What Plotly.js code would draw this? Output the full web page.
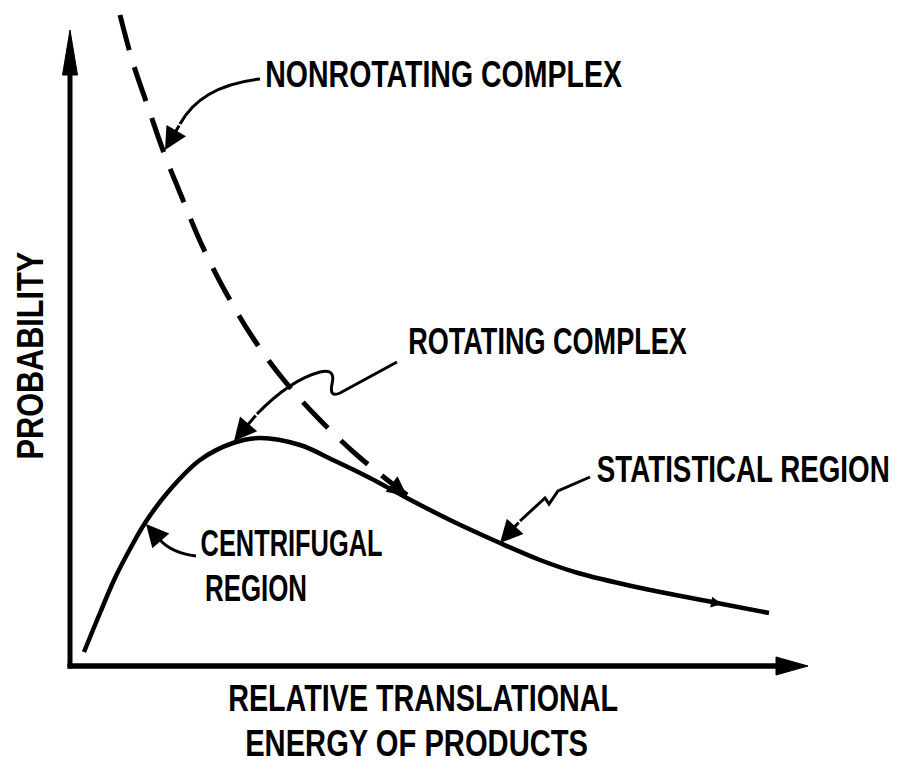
<!DOCTYPE html>
<html>
<head>
<meta charset="utf-8">
<script src="https://cdn.plot.ly/plotly-3.0.1.min.js"></script>
<style>
html,body{margin:0;padding:0;background:#ffffff;}
#chart{width:904px;height:766px;}
</style>
</head>
<body>
<div id="chart"></div>
<script>
// Rotating complex: probability vs relative translational energy (arbitrary units)
const rotEnergy = [0.14,0.30,0.45,0.60,0.75,0.98,1.30,1.63,1.90,2.30,2.63,3.00,3.35,3.80,4.30,4.70,5.08,5.66,6.47,6.99];
const rotProb   = [0.14,0.53,0.88,1.17,1.43,1.74,2.06,2.23,2.28,2.21,2.06,1.88,1.69,1.46,1.23,1.06,0.93,0.79,0.63,0.53];
// Nonrotating complex (dashed)
const nonrotEnergy = [0.50,0.63,0.78,0.94,1.13,1.30,1.55,1.83,2.13,2.48,2.88,3.37];
const nonrotProb   = [6.51,6.03,5.59,5.13,4.66,4.25,3.75,3.28,2.87,2.48,2.10,1.71];
// Axis extents (arbitrary units)
const xAxisEnd = 7.38;
const yAxisEnd = 6.36;

// pixel helpers for layout decorations (plot origin at px 70, py 666, 100 px per unit)
const X = px => (px - 70) / 100;
const Y = py => (666 - py) / 100;
const P = (px, py) => X(px).toFixed(3) + ',' + Y(py).toFixed(3);
const PX = px => (px - 60) / 748;
const PY = py => (676 - py) / 666;

const FONT = {family: '"Liberation Sans", Arial, sans-serif', size: 37, color: '#000', weight: 'bold'};

const traces = [
  {x: rotEnergy, y: rotProb, mode: 'lines', line: {color: '#000', width: 4.5, shape: 'spline', smoothing: 1}, hoverinfo: 'skip'},
  {x: nonrotEnergy, y: nonrotProb, mode: 'lines', line: {color: '#000', width: 5, shape: 'spline', smoothing: 1, dash: '36px,18px'}, hoverinfo: 'skip'}
];

const headLen = 0.45, headHalf = 0.075;
const shapes = [
  {type: 'line', xref: 'x', yref: 'y', x0: 0, y0: -0.025, x1: 0, y1: yAxisEnd - headLen + 0.05, line: {color: '#000', width: 5}},
  {type: 'line', xref: 'x', yref: 'y', x0: -0.025, y0: 0, x1: xAxisEnd - 0.3, y1: 0, line: {color: '#000', width: 5.5}},
  {type: 'path', xref: 'x', yref: 'y', path: 'M0,' + yAxisEnd + ' L' + (-headHalf) + ',' + (yAxisEnd - headLen) + ' L' + headHalf + ',' + (yAxisEnd - headLen) + ' Z', fillcolor: '#000', line: {color: '#000', width: 1}},
  {type: 'path', xref: 'x', yref: 'y', path: 'M' + xAxisEnd + ',0 L' + (xAxisEnd - 0.32) + ',' + (-0.09) + ' L' + (xAxisEnd - 0.32) + ',0.09 Z', fillcolor: '#000', line: {color: '#000', width: 1}},
  // arrow shafts
  {type: 'path', xref: 'x', yref: 'y', path: 'M' + P(260,79) + ' C' + P(215,84) + ' ' + P(192,102) + ' ' + P(180,124), line: {color: '#000', width: 3}},
  {type: 'path', xref: 'x', yref: 'y', path: 'M' + P(397,362) + ' L' + P(340,393) + ' Q' + P(329,398) + ' ' + P(332,384) + ' Q' + P(336,368) + ' ' + P(320,372) + ' Q' + P(290,380) + ' ' + P(257,414), line: {color: '#000', width: 3}},
  {type: 'path', xref: 'x', yref: 'y', path: 'M' + P(590,477) + ' L' + P(558,491) + ' L' + P(549,504) + ' L' + P(545,498) + ' L' + P(520,521), line: {color: '#000', width: 3}},
  {type: 'path', xref: 'x', yref: 'y', path: 'M' + P(196,556) + ' Q' + P(172,553) + ' ' + P(160,540), line: {color: '#000', width: 3}}
];

function head(px, py, ax, ay, w, s) {
  return {x: X(px), y: Y(py), xref: 'x', yref: 'y', text: '', showarrow: true, arrowhead: 2, arrowwidth: w || 3, arrowsize: s || 1.5, arrowcolor: '#000', ax: ax, ay: ay};
}
function label(text, px, py) {
  return {x: X(px), y: Y(py), xref: 'x', yref: 'y', text: text, showarrow: false, xanchor: 'center', yanchor: 'middle', font: FONT};
}

// target text widths (px), used to condense the lettering
const targetWidth = {};
const annotations = [
  head(165,150, 15,-26),
  head(234,441, 23,-27),
  head(500,543, 20,-22),
  head(146,524, 14,16),
  head(407,496, -18,-14, 3, 1.3),
  head(722,604, -17,-3, 2, 1.1)
];
function addLabel(ann, w) { targetWidth[annotations.length] = w; annotations.push(ann); }
addLabel(label('NONROTATING COMPLEX', 443, 74), 357);
addLabel(label('ROTATING COMPLEX', 547, 341), 279);
addLabel(label('STATISTICAL REGION', 743, 469), 293);
addLabel(label('CENTRIFUGAL', 291, 543), 182);
addLabel(label('REGION', 256, 588), 102);
addLabel({x: PX(31), y: PY(356), xref: 'paper', yref: 'paper', text: 'PROBABILITY', textangle: -90, showarrow: false, xanchor: 'center', yanchor: 'middle', font: FONT}, 208);
addLabel({x: PX(423), y: PY(698), xref: 'paper', yref: 'paper', text: 'RELATIVE TRANSLATIONAL', showarrow: false, xanchor: 'center', yanchor: 'middle', font: FONT}, 390);
addLabel({x: PX(416), y: PY(743), xref: 'paper', yref: 'paper', text: 'ENERGY OF PRODUCTS', showarrow: false, xanchor: 'center', yanchor: 'middle', font: FONT}, 343);

const layout = {
  width: 904, height: 766,
  margin: {l: 60, r: 96, t: 10, b: 90},
  paper_bgcolor: '#fff', plot_bgcolor: '#fff',
  showlegend: false,
  xaxis: {range: [-0.1, 7.38], showgrid: false, zeroline: false, showline: false, showticklabels: false, ticks: '', fixedrange: true},
  yaxis: {range: [-0.1, 6.56], showgrid: false, zeroline: false, showline: false, showticklabels: false, ticks: '', fixedrange: true},
  shapes: shapes,
  annotations: annotations
};

Plotly.newPlot('chart', traces, layout, {displayModeBar: false, staticPlot: true}).then(function () {
  document.querySelectorAll('#chart g.annotation').forEach(function (g) {
    const idx = g.getAttribute('data-index');
    const w = targetWidth[idx];
    if (!w) return;
    const t = g.querySelector('text.annotation-text');
    if (!t) return;
    const bb = t.getBBox();
    if (!bb.width) return;
    const k = w / bb.width;
    t.style.transformBox = 'fill-box';
    t.style.transformOrigin = 'center';
    t.style.transform = 'scaleX(' + k.toFixed(4) + ')';
  });
});
</script>
</body>
</html>
